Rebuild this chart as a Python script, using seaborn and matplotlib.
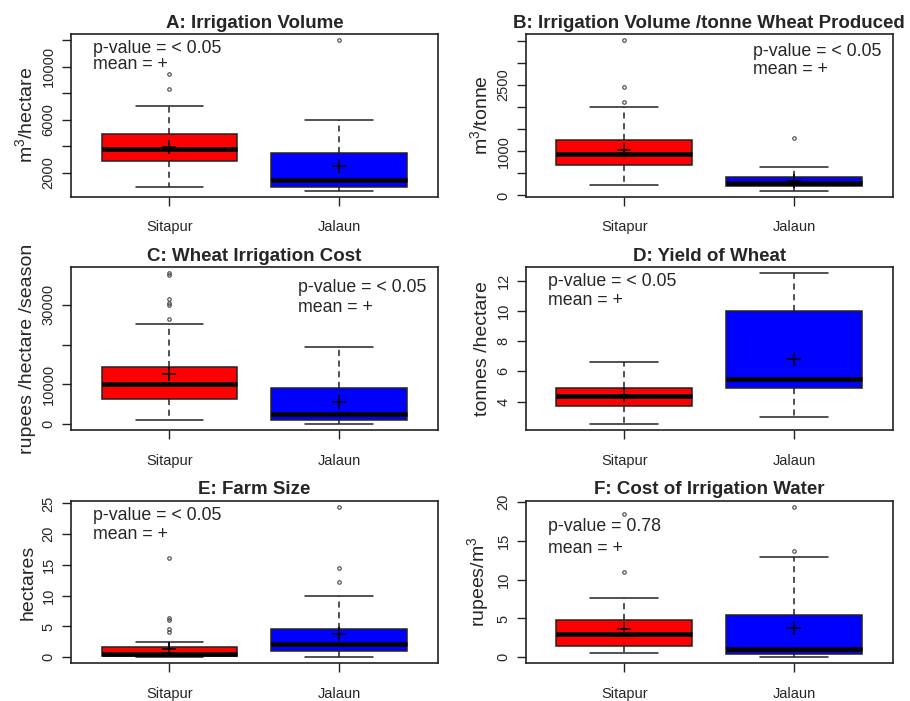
import pandas as pd
import seaborn as sns
from matplotlib import pyplot as plt

REGIONS = ["Sitapur", "Jalaun"]
COLORS = ["#FF0000", "#0000FF"]

# box summaries: lower whisker, Q1, median, Q3, upper whisker
vol_sitapur = [940, 2900, 3800, 4920, 7060]
vol_jalaun = [640, 940, 1450, 3480, 6000]
vol_sitapur_out = [8310, 9450]
vol_jalaun_out = [12010]
vol_means = [3960, 2480]

vpt_sitapur = [226, 677, 933, 1241, 2000]
vpt_jalaun = [105, 203, 278, 414, 639]
vpt_sitapur_out = [2110, 2444, 3512]
vpt_jalaun_out = [1301]
vpt_means = [1030, 323]

cost_sitapur = [1110, 6410, 10000, 14280, 25220]
cost_jalaun = [0, 1030, 2480, 8980, 19320]
cost_sitapur_out = [26500, 29900, 30350, 31380, 37530, 37960]
cost_jalaun_out = []
cost_means = [12570, 5560]

yield_sitapur = [2.51, 3.73, 4.36, 4.91, 6.63]
yield_jalaun = [2.98, 4.91, 5.49, 10.0, 12.51]
yield_sitapur_out = []
yield_jalaun_out = []
yield_means = [4.42, 6.81]

farm_sitapur = [0.0, 0.2, 0.5, 1.62, 2.5]
farm_jalaun = [0.0, 0.95, 2.08, 4.65, 9.95]
farm_sitapur_out = [4.05, 4.6, 6.0, 6.45, 16.1]
farm_jalaun_out = [12.2, 14.5, 24.5]
farm_means = [1.41, 3.84]

water_sitapur = [0.6, 1.42, 2.96, 4.81, 7.6]
water_jalaun = [0.0, 0.4, 1.07, 5.45, 12.95]
water_sitapur_out = [10.94, 18.46]
water_jalaun_out = [13.73, 19.44]
water_means = [3.65, 3.78]

titles = ["A: Irrigation Volume", "B: Irrigation Volume /tonne Wheat Produced",
          "C: Wheat Irrigation Cost", "D: Yield of Wheat",
          "E: Farm Size", "F: Cost of Irrigation Water"]
ylabels = ["m$^3$/hectare", "m$^3$/tonne", "rupees /hectare /season",
           "tonnes /hectare", "hectares", "rupees/m$^3$"]
pvalues = ["p-value = < 0.05"] * 5 + ["p-value = 0.78"]

yticks = [[2000, 4000, 6000, 8000, 10000, 12000],
          [0, 500, 1000, 1500, 2000, 2500, 3000, 3500],
          [0, 10000, 20000, 30000],
          [4, 6, 8, 10, 12],
          [0, 5, 10, 15, 20, 25],
          [0, 5, 10, 15, 20]]
yticklabels = [["2000", "", "6000", "", "10000", ""],
               ["0", "", "1000", "", "", "2500", "", ""],
               ["0", "10000", "", "30000"],
               ["4", "6", "8", "10", "12"],
               ["0", "5", "10", "15", "20", "25"],
               ["0", "5", "10", "15", "20"]]

# where the p-value / mean note sits (axes fraction): x, line 1 y, line 2 y
note_pos = [(0.06, 0.91, 0.81), (0.62, 0.89, 0.78), (0.618, 0.876, 0.755),
            (0.06, 0.91, 0.795), (0.06, 0.907, 0.79), (0.06, 0.838, 0.708)]


def sample(five, outliers):
    # values whose quartiles, whiskers and outliers give back the drawn box
    lo, q1, med, q3, hi = five
    m = len(outliers) + 1
    return ([lo] + [q1] * (m - 1) + [q1] * m + [med] + [q3] * m
            + [hi] + sorted(outliers))


def panel_frame(sit, sit_out, jal, jal_out):
    a = sample(sit, sit_out)
    b = sample(jal, jal_out)
    return pd.DataFrame({"region": ["Sitapur"] * len(a) + ["Jalaun"] * len(b),
                         "value": a + b})


panels = [
    (panel_frame(vol_sitapur, vol_sitapur_out, vol_jalaun, vol_jalaun_out), vol_means),
    (panel_frame(vpt_sitapur, vpt_sitapur_out, vpt_jalaun, vpt_jalaun_out), vpt_means),
    (panel_frame(cost_sitapur, cost_sitapur_out, cost_jalaun, cost_jalaun_out), cost_means),
    (panel_frame(yield_sitapur, yield_sitapur_out, yield_jalaun, yield_jalaun_out), yield_means),
    (panel_frame(farm_sitapur, farm_sitapur_out, farm_jalaun, farm_jalaun_out), farm_means),
    (panel_frame(water_sitapur, water_sitapur_out, water_jalaun, water_jalaun_out), water_means),
]

sns.set_theme(style="white")
plt.rcParams["font.family"] = ["Liberation Sans", "DejaVu Sans"]
plt.rcParams["mathtext.default"] = "regular"

fig, axes = plt.subplots(3, 2, figsize=(9.1, 7.01), dpi=100)
fig.subplots_adjust(left=0.078, right=0.981, top=0.9515, bottom=0.0538,
                    wspace=0.24, hspace=0.433)

for i, ax in enumerate(axes.flat):
    df, means = panels[i]
    sns.boxplot(data=df, x="region", y="value", hue="region", order=REGIONS,
                hue_order=REGIONS, palette=COLORS, legend=False, width=0.8,
                saturation=1, linecolor="#222222", linewidth=1.1, fliersize=2.5,
                whis=1.5,
                medianprops=dict(color="black", linewidth=3.3),
                whiskerprops=dict(linestyle=(0, (4, 3))),
                flierprops=dict(marker="o", markerfacecolor="none",
                                markeredgecolor="#444444", markeredgewidth=0.8),
                ax=ax)
    sns.pointplot(x=REGIONS, y=means, color="black", markers="+",
                  linestyles="none", errorbar=None, markersize=10,
                  markeredgewidth=1.1, ax=ax)

    lo, hi = df["value"].min(), df["value"].max()
    pad = 0.04 * (hi - lo)
    ax.set_ylim(lo - pad, hi + pad)
    ax.set_xlim(-0.58, 1.58)
    ax.set_yticks(yticks[i])
    ax.set_yticklabels(yticklabels[i], rotation=90, va="center")
    ax.set_xticks([0, 1])
    ax.set_xticklabels(REGIONS)
    ax.tick_params(axis="both", direction="out", length=6.5, width=1,
                   color="#222222", labelsize=10.5, left=True, bottom=True)
    ax.tick_params(axis="y", pad=4.5)
    ax.tick_params(axis="x", pad=10.5)
    for spine in ax.spines.values():
        spine.set_visible(True)
        spine.set_color("#222222")
        spine.set_linewidth(1.2)

    ax.set_xlabel("")
    ax.set_ylabel(ylabels[i], fontsize=14)
    ax.yaxis.set_label_coords(-0.095, 0.5)
    ax.set_title(titles[i], fontsize=13.5, fontweight="bold", pad=4.5)

    nx, ny1, ny2 = note_pos[i]
    ax.text(nx, ny1, pvalues[i], transform=ax.transAxes, fontsize=12.8,
            ha="left", va="center")
    ax.text(nx, ny2, "mean = +", transform=ax.transAxes, fontsize=12.8,
            ha="left", va="center")

fig.savefig("out.png", dpi=100)
